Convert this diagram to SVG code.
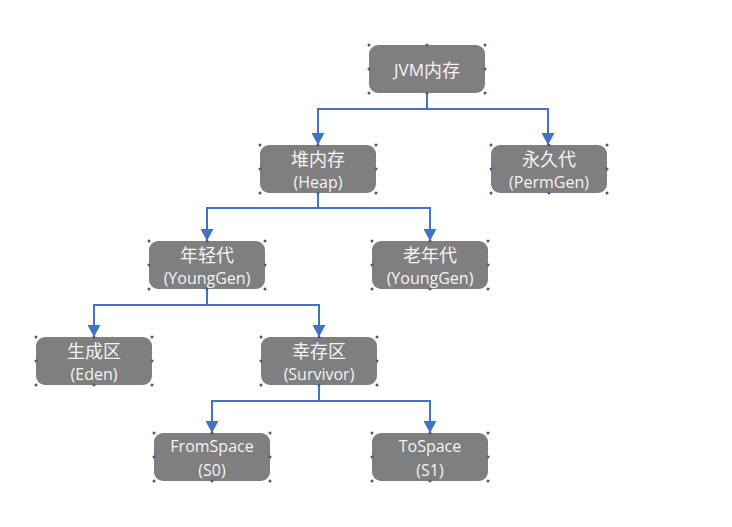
<svg xmlns="http://www.w3.org/2000/svg" width="732" height="527" viewBox="0 0 732 527">
  <defs>
    <style>
      .box { fill: #7f7f7f; }
      .lbl { font-family: "Open Sans", "Noto Sans", "Noto Sans CJK SC", sans-serif; font-size: 16px; fill: #f4f4f4; text-anchor: middle; dominant-baseline: central; }
      .zh { font-family: "Noto Sans CJK SC", sans-serif; font-size: 18px; }
      .h { fill: #4b5a8c; }
      .wire { fill: none; stroke: #4472c4; stroke-width: 2; }
    </style>
    <marker id="arr" viewBox="0 0 12 13" refX="12" refY="6.5" markerWidth="12" markerHeight="13" markerUnits="userSpaceOnUse" orient="auto">
      <path d="M0,0 L12,6.5 L0,13 z" fill="#4472c4"/>
    </marker>
    <!-- selection handles at corners and edge midpoints of a 116x48 box -->
    <g id="handles">
      <circle class="h" cx="0" cy="0" r="1.5"/>
      <circle class="h" cx="58" cy="0" r="1.5"/>
      <circle class="h" cx="116" cy="0" r="1.5"/>
      <circle class="h" cx="0" cy="24" r="1.5"/>
      <circle class="h" cx="116" cy="24" r="1.5"/>
      <circle class="h" cx="0" cy="48" r="1.5"/>
      <circle class="h" cx="58" cy="48" r="1.5"/>
      <circle class="h" cx="116" cy="48" r="1.5"/>
    </g>
  </defs>
  <rect width="732" height="527" fill="#ffffff"/>

  <g id="connectors">
    <polyline class="wire" points="427,93 427,109 318,109 318,145" marker-end="url(#arr)"/>
    <polyline class="wire" points="427,109 548,109 548,145" marker-end="url(#arr)"/>
    <polyline class="wire" points="318,193 318,208 207,208 207,241" marker-end="url(#arr)"/>
    <polyline class="wire" points="318,208 430,208 430,241" marker-end="url(#arr)"/>
    <polyline class="wire" points="207,290 207,305 94,305 94,337" marker-end="url(#arr)"/>
    <polyline class="wire" points="207,305 319,305 319,337" marker-end="url(#arr)"/>
    <polyline class="wire" points="319,386 319,401 212,401 212,433" marker-end="url(#arr)"/>
    <polyline class="wire" points="319,401 430,401 430,433" marker-end="url(#arr)"/>
  </g>

  <g id="jvm" transform="translate(369,45)">
    <rect class="box" width="116" height="48" rx="9"/>
    <text class="lbl" x="58" y="24" style="font-size:17px">JVM<tspan class="zh">内存</tspan></text>
    <use href="#handles"/>
  </g>

  <g id="heap" transform="translate(260,145)">
    <rect class="box" width="116" height="48" rx="9"/>
    <text class="lbl zh" x="58" y="13">堆内存</text>
    <text class="lbl" x="58" y="37">(Heap)</text>
    <use href="#handles"/>
  </g>

  <g id="permgen" transform="translate(491,145)">
    <rect class="box" width="116" height="48" rx="9"/>
    <text class="lbl zh" x="58" y="13">永久代</text>
    <text class="lbl" x="58" y="37">(PermGen)</text>
    <use href="#handles"/>
  </g>

  <g id="young" transform="translate(149,241)">
    <rect class="box" width="116" height="48" rx="9"/>
    <text class="lbl zh" x="58" y="13">年轻代</text>
    <text class="lbl" x="58" y="37">(YoungGen)</text>
    <use href="#handles"/>
  </g>

  <g id="old" transform="translate(372,241)">
    <rect class="box" width="116" height="48" rx="9"/>
    <text class="lbl zh" x="58" y="13">老年代</text>
    <text class="lbl" x="58" y="37">(YoungGen)</text>
    <use href="#handles"/>
  </g>

  <g id="eden" transform="translate(36,337)">
    <rect class="box" width="116" height="48" rx="9"/>
    <text class="lbl zh" x="58" y="13">生成区</text>
    <text class="lbl" x="58" y="37">(Eden)</text>
    <use href="#handles"/>
  </g>

  <g id="survivor" transform="translate(261,337)">
    <rect class="box" width="116" height="48" rx="9"/>
    <text class="lbl zh" x="58" y="13">幸存区</text>
    <text class="lbl" x="58" y="37">(Survivor)</text>
    <use href="#handles"/>
  </g>

  <g id="from" transform="translate(154,433)">
    <rect class="box" width="116" height="48" rx="9"/>
    <text class="lbl" x="58" y="13">FromSpace</text>
    <text class="lbl" x="58" y="37">(S0)</text>
    <use href="#handles"/>
  </g>

  <g id="to" transform="translate(372,433)">
    <rect class="box" width="116" height="48" rx="9"/>
    <text class="lbl" x="58" y="13">ToSpace</text>
    <text class="lbl" x="58" y="37">(S1)</text>
    <use href="#handles"/>
  </g>
</svg>
